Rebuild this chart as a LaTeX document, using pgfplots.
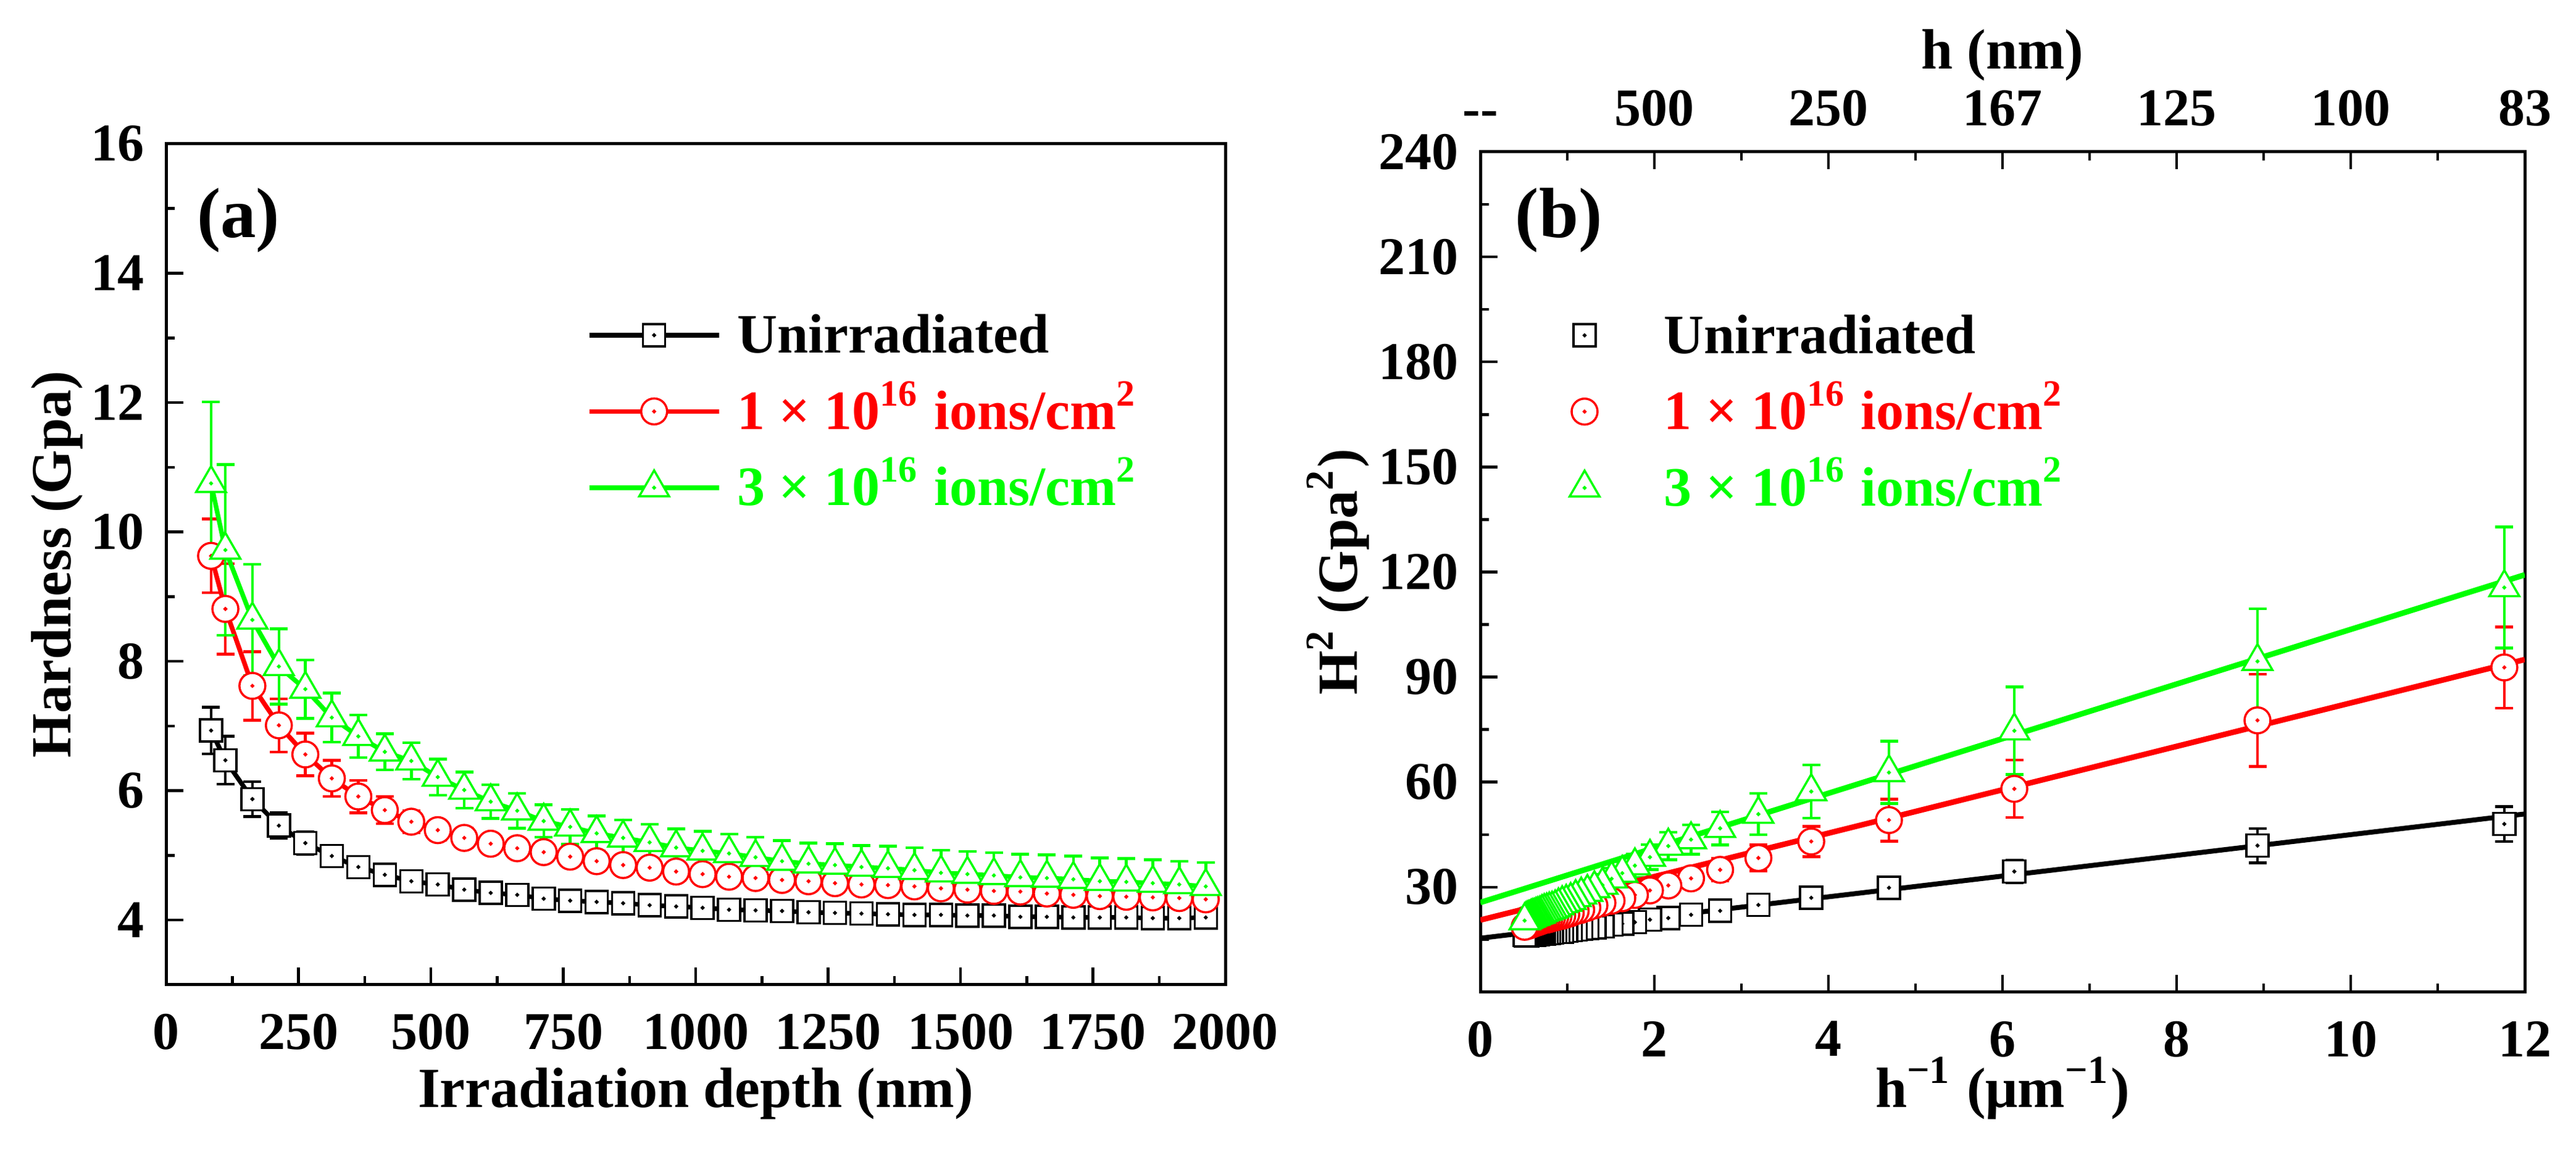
\documentclass[border=0pt]{standalone}
\usepackage{fontspec}
\setmainfont{Liberation Serif}
\usepackage{pgfplots}
\usepackage{pgfplotstable}
\pgfplotsset{compat=1.18}
\definecolor{ored}{RGB}{255,0,0}
\definecolor{ogreen}{RGB}{0,255,0}

\pgfdeclareplotmark{osq}{%
  \pgfpathrectangle{\pgfqpoint{-\pgfplotmarksize}{-\pgfplotmarksize}}{\pgfqpoint{2\pgfplotmarksize}{2\pgfplotmarksize}}%
  \pgfusepathqfillstroke
  \pgfpathcircle{\pgfpointorigin}{0.12pt}%
  \pgfusepathqstroke}
\pgfdeclareplotmark{ocirc}{%
  \pgfpathcircle{\pgfpointorigin}{\pgfplotmarksize}%
  \pgfusepathqfillstroke
  \pgfpathcircle{\pgfpointorigin}{0.12pt}%
  \pgfusepathqstroke}
\pgfdeclareplotmark{otri}{%
  \pgfpathmoveto{\pgfqpointpolar{90}{\pgfplotmarksize}}%
  \pgfpathlineto{\pgfqpointpolar{210}{\pgfplotmarksize}}%
  \pgfpathlineto{\pgfqpointpolar{330}{\pgfplotmarksize}}%
  \pgfpathclose
  \pgfusepathqfillstroke
  \pgfpathcircle{\pgfpointorigin}{0.12pt}%
  \pgfusepathqstroke}

% Panel (a): depth h (nm), hardness H (GPa) with errors
\pgfplotstableread{
h    bk   bke  rd   rde  gr    gre
85   6.93 0.36 9.63 0.57 10.75 1.26
112  6.47 0.37 8.81 0.70 9.72  1.32
163  5.87 0.27 7.62 0.53 8.64  0.86
213  5.46 0.20 7.01 0.41 7.92  0.58
263  5.19 0.17 6.56 0.33 7.57  0.45
313  4.99 0.14 6.19 0.28 7.13  0.38
363  4.82 0.12 5.91 0.25 6.84  0.33
413  4.70 0.10 5.70 0.21 6.60  0.28
463  4.60 0.08 5.52 0.17 6.46  0.28
513  4.55 0.08 5.39 0.15 6.21  0.28
563  4.47 0.08 5.27 0.15 6.01  0.28
613  4.42 0.08 5.18 0.14 5.83  0.26
663  4.39 0.08 5.11 0.14 5.69  0.27
713  4.33 0.08 5.05 0.14 5.53  0.25
763  4.30 0.08 4.98 0.14 5.44  0.27
813  4.28 0.08 4.91 0.14 5.34  0.27
863  4.26 0.08 4.85 0.13 5.27  0.28
913  4.23 0.08 4.81 0.13 5.20  0.28
963  4.21 0.08 4.75 0.13 5.12  0.29
1013 4.19 0.08 4.71 0.13 5.07  0.30
1063 4.16 0.08 4.67 0.13 5.03  0.30
1113 4.15 0.08 4.65 0.13 4.97  0.31
1163 4.14 0.08 4.62 0.13 4.91  0.32
1213 4.12 0.08 4.60 0.13 4.87  0.32
1263 4.11 0.08 4.57 0.13 4.85  0.33
1313 4.10 0.08 4.55 0.13 4.82  0.33
1363 4.09 0.08 4.54 0.13 4.80  0.34
1413 4.08 0.08 4.52 0.13 4.77  0.35
1463 4.08 0.08 4.49 0.13 4.73  0.35
1513 4.07 0.08 4.47 0.13 4.71  0.35
1563 4.07 0.08 4.45 0.13 4.69  0.35
1613 4.05 0.08 4.44 0.13 4.66  0.36
1663 4.05 0.08 4.41 0.13 4.65  0.36
1713 4.04 0.08 4.39 0.13 4.63  0.36
1763 4.04 0.08 4.37 0.13 4.60  0.36
1813 4.04 0.08 4.36 0.13 4.59  0.36
1863 4.03 0.08 4.35 0.13 4.57  0.36
1913 4.03 0.08 4.34 0.13 4.55  0.36
1963 4.04 0.08 4.32 0.13 4.52  0.37
}\tabA

% Panel (b): 1/h (um^-1), H^2 (GPa^2) with errors
\pgfplotstableread{
x      bk    bke rd    rde  gr     gre
11.765 48.02 5.0 92.74 11.6 115.56 17.3
8.929  41.86 4.9 77.62 13.2 94.48  15.0
6.135  34.46 3.3 58.06 8.2  74.65  12.5
4.695  29.81 2.5 49.14 6.0  62.73  8.9
3.802  26.94 2.1 43.03 4.3  57.30  7.6
3.195  24.90 1.8 38.32 3.7  50.84  5.9
2.755  23.23 1.5 34.93 3.2  46.79  4.7
2.421  22.09 1.3 32.49 2.8  43.56  4.2
2.160  21.16 1.2 30.47 2.5  41.73  3.9
1.949  20.70 1.1 29.05 2.3  38.56  3.6
1.776  19.98 1.0 27.77 2.2  36.12  3.4
1.631  19.54 1.0 26.83 2.0  33.99  3.2
1.508  19.27 0.9 26.11 1.9  32.38  3.1
1.403  18.75 0.9 25.50 1.8  30.58  3.0
1.311  18.49 0.8 24.80 1.8  29.59  2.9
1.230  18.32 0.8 24.11 1.7  28.52  2.9
1.159  18.15 0.8 23.52 1.7  27.77  2.9
1.095  17.89 0.8 23.14 1.7  27.04  2.9
1.038  17.72 0.8 22.56 1.6  26.21  2.9
0.987  17.56 0.8 22.18 1.6  25.70  2.9
0.941  17.31 0.8 21.81 1.6  25.30  2.9
0.898  17.22 0.8 21.62 1.6  24.70  2.9
0.860  17.14 0.8 21.34 1.6  24.11  2.9
0.824  16.97 0.8 21.16 1.6  23.72  2.9
0.792  16.89 0.8 20.88 1.6  23.52  2.9
0.762  16.81 0.8 20.70 1.6  23.23  2.9
0.734  16.73 0.8 20.61 1.6  23.04  2.9
0.708  16.65 0.8 20.43 1.6  22.75  2.9
0.684  16.65 0.8 20.16 1.6  22.37  2.9
0.661  16.56 0.8 19.98 1.6  22.18  2.9
0.640  16.56 0.8 19.80 1.6  22.00  2.9
0.620  16.40 0.8 19.71 1.6  21.72  2.9
0.601  16.40 0.8 19.45 1.6  21.62  2.9
0.584  16.32 0.8 19.27 1.6  21.44  2.9
0.567  16.32 0.8 19.10 1.6  21.16  2.9
0.552  16.32 0.8 19.01 1.6  21.07  2.9
0.537  16.24 0.8 18.92 1.6  20.88  2.9
0.523  16.24 0.8 18.84 1.6  20.70  2.9
0.509  16.32 0.8 18.66 1.6  20.43  2.9
}\tabB

\pgfplotsset{
  base/.style={
    scale only axis,
    tick align=inside,
    major tick length=2.8pt,
    minor tick length=1.4pt,
    axis line style={line width=0.5pt},
    tick style={line width=0.45pt, black},
    tick label style={font=\fontsize{8.6}{10}\selectfont\bfseries},
    label style={font=\fontsize{9.2}{11}\selectfont\bfseries},
    /pgf/number format/assume math mode=true,
    /pgf/number format/1000 sep={},
    scaled ticks=false,
    xtick pos=lower, ytick pos=left,
    xticklabel style={yshift=-1.2pt},
    legend cell align=left,
    legend image code/.code={\draw[mark repeat=2,mark phase=2,##1] plot coordinates {(0pt,0pt) (10.5pt,0pt) (21pt,0pt)}; \path (0pt,0pt) (21pt,0pt);},
  },
  ebars/.style={error bars/.cd, y dir=both, y explicit,
    error bar style={line width=0.45pt},
    error mark options={rotate=90, mark size=1.45pt, line width=0.45pt}},
  mk/.style={mark options={solid, fill=white, line width=0.35pt}},
}

\begin{document}
\begin{tikzpicture}
\path[use as bounding box] (0pt,0pt) rectangle (417.3pt,186.1pt);

% ---------------- Panel (a)
\begin{axis}[base,
  at={(26.9pt,26.6pt)}, anchor=south west,
  width=171.6pt, height=136.2pt,
  xmin=0, xmax=2000, ymin=3, ymax=16,
  xtick={0,250,...,2000}, ytick={4,6,...,16},
  minor x tick num=1, minor y tick num=1,
  xlabel={Irradiation depth (nm)},
  ylabel={Hardness (Gpa)},
  xlabel style={at={(axis description cs:0.5,-0.1457)}, anchor=base},
  ylabel style={at={(axis description cs:-0.0903,0.5)}, anchor=base},
  legend style={at={(0.3974,0.8062)}, anchor=north west, draw=none, fill=none,
    inner sep=0pt, outer sep=0pt, row sep=3.15pt, column sep=2.6pt,
    font=\fontsize{9}{10}\selectfont\bfseries,
    nodes={inner sep=0pt, text height=7.5pt, text depth=1.7pt}},
]
\addplot[black, line width=0.75pt, mark=osq, mark size=1.8pt, mk, ebars]
  table[x=h, y=bk, y error=bke] {\tabA};
\addlegendentry{Unirradiated}
\addplot[ored, line width=0.75pt, mark=ocirc, mark size=2.1pt, mk, ebars]
  table[x=h, y=rd, y error=rde] {\tabA};
\addlegendentry{\textcolor{ored}{1 × 10\textsuperscript{16} ions/cm\textsuperscript{2}}}
\addplot[ogreen, line width=0.75pt, mark=otri, mark size=2.8pt, mk, ebars]
  table[x=h, y=gr, y error=gre] {\tabA};
\addlegendentry{\textcolor{ogreen}{3 × 10\textsuperscript{16} ions/cm\textsuperscript{2}}}
\node[font=\fontsize{11.5}{13}\selectfont\bfseries] at (axis description cs:0.0682,0.909) {(a)};
\end{axis}

% ---------------- Panel (b) main
\begin{axis}[base,
  at={(239.8pt,25.4pt)}, anchor=south west,
  width=169.2pt, height=136.1pt,
  xmin=0, xmax=12, ymin=0, ymax=240,
  xtick={0,2,...,12}, ytick={0,30,...,240},
  yticklabels={,30,60,90,120,150,180,210,240},
  minor x tick num=1, minor y tick num=1,
  xlabel={h\textsuperscript{−1} (μm\textsuperscript{−1})},
  ylabel={H\textsuperscript{2} (Gpa\textsuperscript{2})},
  xlabel style={at={(axis description cs:0.5,-0.1367)}, anchor=base},
  ylabel style={at={(axis description cs:-0.1182,0.5)}, anchor=base},
  legend style={at={(0.0366,0.8154)}, anchor=north west, draw=none, fill=none,
    inner sep=0pt, outer sep=0pt, row sep=3.15pt, column sep=2.2pt,
    font=\fontsize{9}{10}\selectfont\bfseries,
    nodes={inner sep=0pt, text height=7.5pt, text depth=1.7pt}},
]
\addplot[black, only marks, mark=osq, mark size=1.8pt, mk, ebars]
  table[x=x, y=bk, y error=bke] {\tabB};
\addlegendentry{Unirradiated}
\addplot[ored, only marks, mark=ocirc, mark size=2.1pt, mk, ebars]
  table[x=x, y=rd, y error=rde] {\tabB};
\addlegendentry{\textcolor{ored}{1 × 10\textsuperscript{16} ions/cm\textsuperscript{2}}}
\addplot[ogreen, only marks, mark=otri, mark size=2.8pt, mk, ebars]
  table[x=x, y=gr, y error=gre] {\tabB};
\addlegendentry{\textcolor{ogreen}{3 × 10\textsuperscript{16} ions/cm\textsuperscript{2}}}
% linear fits
\addplot[black, line width=0.8pt, forget plot] coordinates {(0,15.4) (12,50.9)};
\addplot[ored, line width=0.9pt, forget plot] coordinates {(0,20.6) (12,95.0)};
\addplot[ogreen, line width=0.9pt, forget plot] coordinates {(0,25.6) (12,119.2)};
\node[font=\fontsize{11.5}{13}\selectfont\bfseries] at (axis description cs:0.0751,0.9184) {(b)};
\end{axis}

% ---------------- Panel (b) top axis h (nm)
\begin{axis}[base,
  at={(239.8pt,25.4pt)}, anchor=south west,
  width=169.2pt, height=136.1pt,
  xmin=0, xmax=12, ymin=0, ymax=240,
  axis x line*=top, hide y axis,
  xtick={0,2,...,12},
  xticklabels={{-{}-},500,250,167,125,100,83},
  minor x tick num=1,
  xtick pos=upper, xticklabel pos=upper,
  xticklabel style={yshift=1.8pt},
  xlabel={h (nm)},
  xlabel style={at={(axis description cs:0.5,1.0985)}, anchor=base},
]
\addplot[draw=none, forget plot] coordinates {(1,100)};
\end{axis}
\end{tikzpicture}
\end{document}
